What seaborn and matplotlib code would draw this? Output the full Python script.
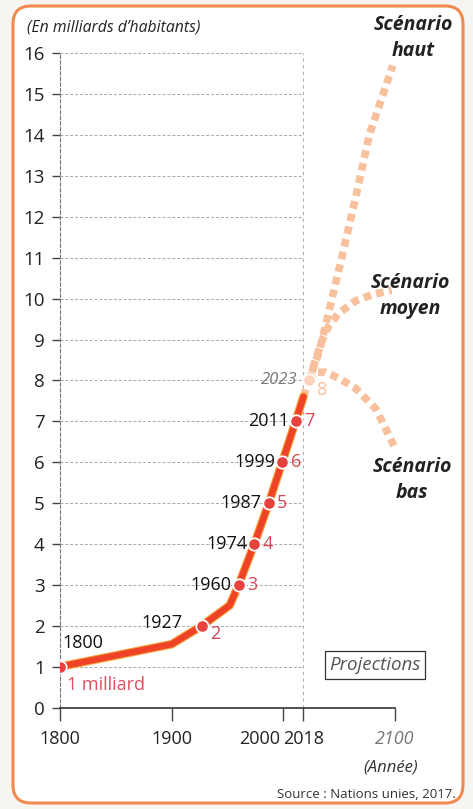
import matplotlib
matplotlib.use("Agg")
import matplotlib.pyplot as plt
import matplotlib.transforms as mtransforms
from matplotlib.patches import FancyBboxPatch
import seaborn as sns
import pandas as pd

# ---------------- data ----------------
hist_years = [1800, 1900, 1927, 1952, 1960, 1974, 1987, 1999, 2011, 2018]
hist_pop = [1.0, 1.55, 2.0, 2.5, 3.0, 4.0, 5.0, 6.0, 7.0, 7.6]

milestone_years = [1800, 1927, 1960, 1974, 1987, 1999, 2011]
milestone_pop = [1, 2, 3, 4, 5, 6, 7]
milestone_nums = ["1 milliard", "2", "3", "4", "5", "6", "7"]

proj_year, proj_pop = 2023, 8

high_years = [2018, 2023, 2032, 2041, 2054, 2065, 2077, 2098]
high_pop = [7.6, 8.0, 8.7, 9.7, 11.2, 12.5, 14.0, 15.7]
mid_years = [2023, 2030, 2035, 2041, 2050, 2065, 2080, 2097]
mid_pop = [8.0, 8.6, 9.0, 9.35, 9.65, 9.95, 10.1, 10.2]
low_years = [2023, 2029, 2038, 2050, 2065, 2083, 2100]
low_pop = [8.0, 8.2, 8.2, 8.05, 7.8, 7.3, 6.35]

x_ticks = [1800, 1900, 2000, 2018, 2100]
x_ticklabels = ["1800", "1900", "2000", "2018", "2100"]
y_ticks = list(range(0, 17))

# ---------------- style ----------------
sns.set_style("white")
plt.rcParams['font.family'] = ['Open Sans', 'DejaVu Sans']

W, H = 473, 809
fig = plt.figure(figsize=(W / 100, H / 100), dpi=100)
fig.patch.set_facecolor("#f6f5f1")

# rounded panel frame (pixel coordinates)
frame = FancyBboxPatch((13, 6), 450, 797, boxstyle="round,pad=0,rounding_size=18",
                       transform=mtransforms.IdentityTransform(),
                       facecolor="white", edgecolor="#F08A4E", linewidth=2.2, zorder=-10)
fig.patches.append(frame)

def fx(x):
    return x / W

def fy(y):
    return 1 - y / H

px_per_year = (395 - 60) / 300.0
px_per_unit = 40.9
ax_left, ax_bottom_px = 60, 707.6
ax_w_px, ax_h_px = 400, 16.6 * px_per_unit
ax = fig.add_axes([fx(ax_left), fy(ax_bottom_px), ax_w_px / W, ax_h_px / H])
ax.set_zorder(1)
ax.patch.set_visible(False)

# grid lines (only over the observed period)
ax.hlines(y_ticks[1:], 1800, 2018, colors="#a8a8a8", linestyles=(0, (3, 2)), linewidth=0.7, zorder=1)
ax.vlines([2018], 0, 16, colors="#b0b0b0", linestyles=(0, (3, 3)), linewidth=0.8, zorder=1)

# projections
pale = "#F8C09C"
proj_ls = (0, (1.0, 0.7))
for yrs, vals in [(high_years, high_pop), (mid_years, mid_pop), (low_years, low_pop)]:
    sns.lineplot(x=yrs, y=vals, ax=ax, color=pale, linewidth=5.5, linestyle=proj_ls,
                 sort=False, estimator=None, zorder=2)
    ax.lines[-1].set_dash_capstyle("butt")
    ax.lines[-1].set_solid_capstyle("butt")

# historical line (with light orange glow)
sns.lineplot(x=hist_years, y=hist_pop, ax=ax, color="#F6A23C", linewidth=6.2,
             sort=False, estimator=None, zorder=3)
sns.lineplot(x=hist_years, y=hist_pop, ax=ax, color="#EE4326", linewidth=4.6,
             sort=False, estimator=None, zorder=4)

# markers
sns.scatterplot(x=milestone_years, y=milestone_pop, ax=ax, color="#E8423E", s=80,
                edgecolor="white", linewidth=1.3, zorder=6)
sns.scatterplot(x=[proj_year], y=[proj_pop], ax=ax, color="#FBD3BC", s=80,
                edgecolor="white", linewidth=1.3, zorder=6)

ax.set_xlim(1800, 1800 + ax_w_px / px_per_year)
ax.set_ylim(0, 16.6)

# spines
for s in ["top", "right"]:
    ax.spines[s].set_visible(False)
ax.spines["left"].set_bounds(0, 16)
ax.spines["left"].set_linestyle((0, (3, 2)))
ax.spines["left"].set_color("#777777")
ax.spines["left"].set_linewidth(0.8)
ax.spines["bottom"].set_bounds(1800, 2100)
ax.spines["bottom"].set_color("#333333")
ax.spines["bottom"].set_linewidth(1.2)

ax.set_xlabel("")
ax.set_ylabel("")
ax.tick_params(axis="y", direction="out", length=6, width=1, color="#444444", pad=5, left=True)
ax.tick_params(axis="x", direction="out", length=9, width=1, color="#444444", pad=7, bottom=True)
ax.set_yticks(y_ticks)
ax.set_yticklabels([str(v) for v in y_ticks], fontsize=13.5, color="#222222")
ax.set_xticks(x_ticks)
# the "2000" label is drawn separately (right-aligned) to avoid overlapping "2018"
ax.set_xticklabels([t if t != "2000" else "" for t in x_ticklabels], fontsize=13, color="#222222")
xl = ax.get_xticklabels()
xl[4].set_style("italic")
xl[4].set_color("#777777")
ax.annotate(x_ticklabels[2], (x_ticks[2], 0), xytext=(-2.5, -16), textcoords="offset points",
            ha="right", va="top", fontsize=13, color="#222222", annotation_clip=False)

num_col = "#D84653"
lab_fs = 13
for yr, v, num in zip(milestone_years, milestone_pop, milestone_nums):
    if yr == 1800:
        ax.annotate(str(yr), (yr, v), xytext=(2, 17), textcoords="offset points",
                    ha="left", va="center", fontsize=lab_fs, color="#111111")
        ax.annotate(num, (yr, v), xytext=(5, -13), textcoords="offset points",
                    ha="left", va="center", fontsize=13, color="#DF5060")
    elif yr == 1927:
        ax.annotate(str(yr), (yr, v), xytext=(-14, 2), textcoords="offset points",
                    ha="right", va="center", fontsize=lab_fs, color="#111111")
        ax.annotate(num, (yr, v), xytext=(6, -6), textcoords="offset points",
                    ha="left", va="center", fontsize=lab_fs, color=num_col)
    else:
        ax.annotate(str(yr), (yr, v), xytext=(-5, 0), textcoords="offset points",
                    ha="right", va="center", fontsize=lab_fs, color="#111111")
        ax.annotate(num, (yr, v), xytext=(6, 0), textcoords="offset points",
                    ha="left", va="center", fontsize=lab_fs, color=num_col)

ax.annotate(str(proj_year), (proj_year, proj_pop), xytext=(-8, 0), textcoords="offset points",
            ha="right", va="center", fontsize=12, color="#777777", style="italic")
ax.annotate("8", (proj_year, proj_pop), xytext=(5, -7), textcoords="offset points",
            ha="left", va="center", fontsize=13, color="#F7BE9C")

# scenario labels
for txt, x, y in [("Scénario\nhaut", 413, 38), ("Scénario\nmoyen", 410, 296), ("Scénario\nbas", 412, 480)]:
    fig.text(fx(x), fy(y), txt, ha="center", va="center", fontsize=14, fontweight="bold",
             style="italic", color="#222222", linespacing=1.35)

# Projections box
fig.text(fx(375), fy(665), "Projections", ha="center", va="center", fontsize=13.5, style="italic",
         color="#555555",
         bbox=dict(boxstyle="square,pad=0.25", facecolor="white", edgecolor="#333333", linewidth=0.9))

fig.text(fx(27), fy(28), "(En milliards d\u2019habitants)", ha="left", va="center",
         fontsize=11.3, style="italic", color="#222222")
fig.text(fx(391), fy(767), "(Année)", ha="center", va="center", fontsize=12, style="italic",
         color="#333333")
fig.text(fx(456), fy(794), "Source : Nations unies, 2017.", ha="right", va="center",
         fontsize=9.5, color="#333333")

fig.savefig("out.png", dpi=100, facecolor=fig.get_facecolor())
